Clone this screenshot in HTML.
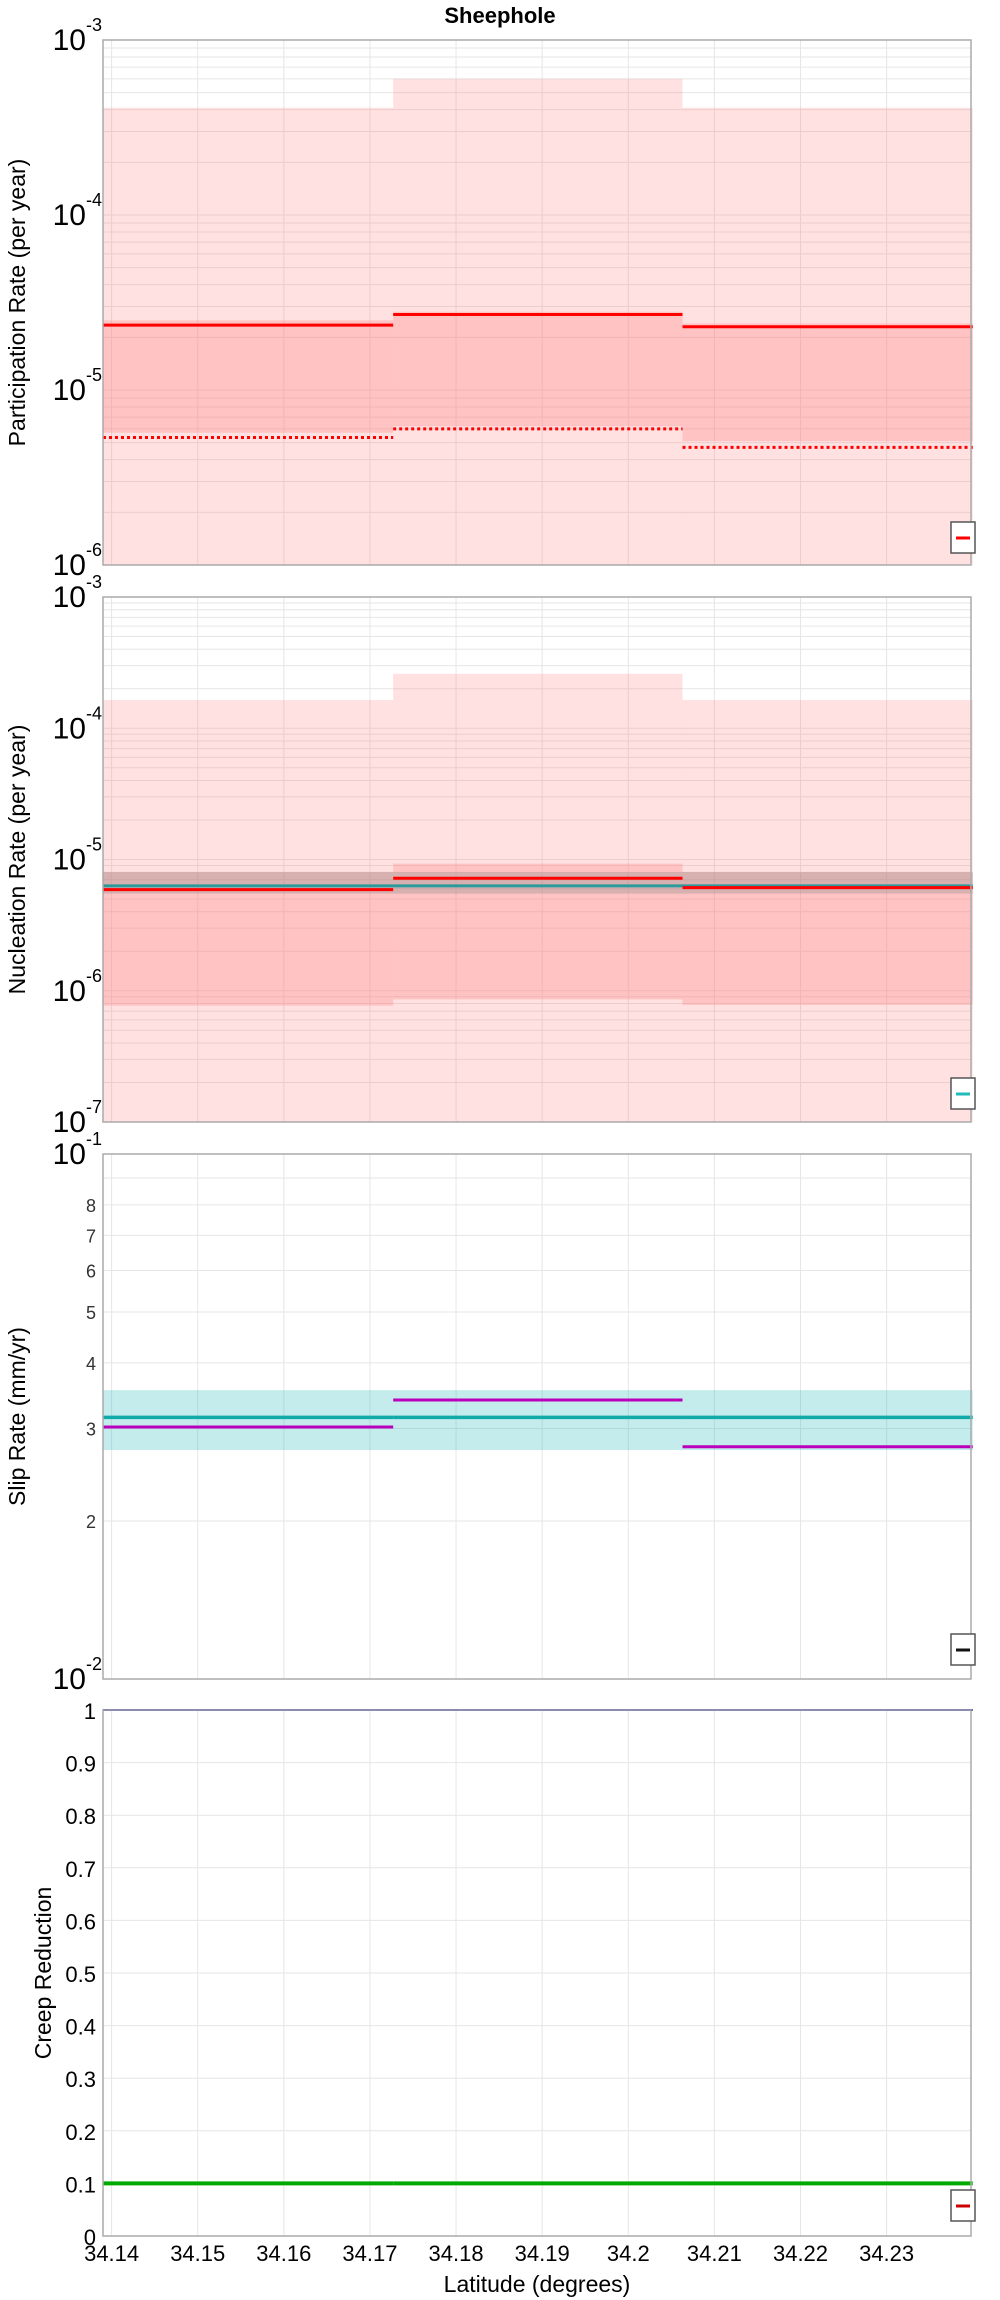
<!DOCTYPE html>
<html><head><meta charset="utf-8"><style>
body{margin:0;background:#fff;}
svg{display:block;font-family:"Liberation Sans","DejaVu Sans",sans-serif;}
</style></head><body>
<svg id="chart" width="1000" height="2300" viewBox="0 0 1000 2300" xmlns="http://www.w3.org/2000/svg">
<text x="500" y="23" text-anchor="middle" font-size="22" font-weight="bold">Sheephole</text>
</svg>
<script>
// ---- data ----
const xTicks = [34.14,34.15,34.16,34.17,34.18,34.19,34.2,34.21,34.22,34.23];
const xTickLabels = ["34.14","34.15","34.16","34.17","34.18","34.19","34.2","34.21","34.22","34.23"];
const segStarts = [34.139, 34.1727, 34.2063];
const segEnds   = [34.1727, 34.2063, 34.24];
// participation
const partOuterHi = [4.1e-4, 6.0e-4, 4.1e-4];
const partOuterLo = [1e-6, 1e-6, 1e-6];
const partInnerHi = [2.5e-5, 2.8e-5, 2.4e-5];
const partInnerLo = [5.7e-6, 6.2e-6, 5.1e-6];
const partMean = [2.35e-5, 2.7e-5, 2.3e-5];
const partDotted = [5.35e-6, 6.0e-6, 4.7e-6];
// nucleation
const nuclOuterHi = [1.64e-4, 2.6e-4, 1.64e-4];
const nuclOuterLo = [1e-7, 1e-7, 1e-7];
const nuclInnerHi = [8.0e-6, 9.3e-6, 8.0e-6];
const nuclInnerLo = [7.7e-7, 8.6e-7, 7.8e-7];
const nuclMean = [5.9e-6, 7.2e-6, 6.1e-6];
const nuclTarget = [6.3e-6, 6.3e-6, 6.3e-6];
const nuclTargetHi = [8.0e-6, 8.0e-6, 8.0e-6];
const nuclTargetLo = [5.5e-6, 5.5e-6, 5.5e-6];
// slip
const slipTarget = [3.15, 3.15, 3.15];
const slipTargetHi = [3.55, 3.55, 3.55];
const slipTargetLo = [2.73, 2.73, 2.73];
const slipModel = [3.02, 3.40, 2.77];
const slipMinorLabels = ["2","3","4","5","6","7","8"];
// creep
const creepUpper = [1, 1, 1];
const creepLower = [0.1, 0.1, 0.1];
const creepTicks = [0,0.1,0.2,0.3,0.4,0.5,0.6,0.7,0.8,0.9,1];
const creepTickLabels = ["0","0.1","0.2","0.3","0.4","0.5","0.6","0.7","0.8","0.9","1"];

const NS="http://www.w3.org/2000/svg";
const svg=document.getElementById('chart');
const L=103,R=971;
const X0=34.139,X1=34.2398;
function xs(v){return L+(v-X0)/(X1-X0)*(R-L);}
function mk(tag,attrs,parent){const e=document.createElementNS(NS,tag);for(const k in attrs)e.setAttribute(k,attrs[k]);(parent||svg).appendChild(e);return e;}

function logScale(top,bot,lmin,lmax){return v=>bot-(Math.log10(v)-lmin)/(lmax-lmin)*(bot-top);}
function linScale(top,bot,a,b){return v=>bot-(v-a)/(b-a)*(bot-top);}

function panel(name,top,bot){
  const g=mk('g',{});
  
  
  return g;
}
function vgrid(g,top,bot){
  xTicks.forEach(t=>{const l=mk('line',{x1:xs(t),x2:xs(t),y1:top,y2:bot,stroke:'#e6e6e6','stroke-width':1},g);
  });
}
function frame(g,top,bot){
  const r=mk('rect',{x:L,y:top,width:R-L,height:bot-top,fill:'none',stroke:'#aaa','stroke-width':1.5},g);
  
}
function bands(g,y,hi,lo,fill,name){
  for(let i=0;i<hi.length;i++){
    const y1=y(hi[i]),y2=y(lo[i]);
    const r=mk('rect',{x:xs(segStarts[i]),y:y1,width:xs(segEnds[i])-xs(segStarts[i]),height:y2-y1,fill:fill},g);
    
  }
}
function lines(g,y,vals,color,w,name,dash){
  for(let i=0;i<vals.length;i++){
    const a={x1:xs(segStarts[i]),x2:xs(segEnds[i]),y1:y(vals[i]),y2:y(vals[i]),stroke:color,'stroke-width':w};
    if(dash)a['stroke-dasharray']=dash;
    const l=mk('line',a,g);
    
  }
}
function logGrid(g,y,lmin,lmax,minorOnly){
  for(let d=lmin;d<lmax;d++){
    for(let m=1;m<10;m++){
      const v=Math.pow(10,d)*m;
      const l=mk('line',{x1:L,x2:R,y1:y(v),y2:y(v),stroke:'#e6e6e6','stroke-width':1},g);
      
    }
  }
}
function decadeLabels(g,y,lmin,lmax){
  for(let d=lmin;d<=lmax;d++){
    const t=mk('text',{x:86,y:y(Math.pow(10,d))+10,'text-anchor':'end','font-size':30},g);
    t.textContent='10';
    
    const s=mk('text',{x:86,y:y(Math.pow(10,d))-9,'font-size':18},g);
    s.textContent=String(d);
    
  }
}
function ytitle(g,text,x,cy){
  const t=mk('text',{x:x,y:cy,'text-anchor':'middle','font-size':23,transform:`rotate(-90 ${x} ${cy})`},g);
  t.textContent=text;
}
function legend(g,y0,color){
  const r=mk('rect',{x:951,y:y0,width:24,height:31,fill:'#fff',stroke:'#555','stroke-width':1.5},g);
  
  const l=mk('line',{x1:956,x2:970,y1:y0+16,y2:y0+16,stroke:color,'stroke-width':3},g);
  
}

// Panel 1 participation
{const top=40,bot=565;const y=logScale(top,bot,-6,-3);const g=panel('participation-rate-panel');
 logGrid(g,y,-6,-3);vgrid(g,top,bot);
 bands(g,y,partOuterHi,partOuterLo,'rgba(255,120,120,0.22)','participation-outer-band');
 bands(g,y,partInnerHi,partInnerLo,'rgba(255,120,120,0.28)','participation-inner-band');
 lines(g,y,partMean,'#ff0000',3,'participation-mean-line');
 lines(g,y,partDotted,'#ff0000',3,'participation-dotted-line','3,3');
 frame(g,top,bot);decadeLabels(g,y,-6,-3);ytitle(g,'Participation Rate (per year)',25,(top+bot)/2);
 legend(g,522,'#ff0000');}
// Panel 2 nucleation
{const top=597,bot=1122;const y=logScale(top,bot,-7,-3);const g=panel('nucleation-rate-panel');
 logGrid(g,y,-7,-3);vgrid(g,top,bot);
 bands(g,y,nuclOuterHi,nuclOuterLo,'rgba(255,120,120,0.22)','nucleation-outer-band');
 bands(g,y,nuclInnerHi,nuclInnerLo,'rgba(255,120,120,0.28)','nucleation-inner-band');
 bands(g,y,nuclTargetHi,nuclTargetLo,'rgba(140,140,140,0.35)','nucleation-target-band');
 lines(g,y,nuclTarget,'#2a9a9a',3,'nucleation-target-line');
 lines(g,y,nuclMean,'#ff0000',3,'nucleation-mean-line');
 frame(g,top,bot);decadeLabels(g,y,-7,-3);ytitle(g,'Nucleation Rate (per year)',25,(top+bot)/2);
 legend(g,1078,'#22bbbb');}
// Panel 3 slip
{const top=1154,bot=1679;const y=logScale(top,bot,0,1);const g=panel('slip-rate-panel');
 for(let m=2;m<10;m++){const l=mk('line',{x1:L,x2:R,y1:y(m),y2:y(m),stroke:'#e6e6e6'},g);}
 vgrid(g,top,bot);
 bands(g,y,slipTargetHi,slipTargetLo,'rgba(20,180,180,0.25)','slip-target-band');
 lines(g,y,slipTarget,'#10aaaa',3.5,'slip-target-line');
 lines(g,y,slipModel,'#bb00bb',3,'slip-model-line');
 frame(g,top,bot);
 slipMinorLabels.forEach(s=>{const t=mk('text',{x:96,y:y(+s)+7,'text-anchor':'end','font-size':18,fill:'#333'},g);t.textContent=s;});
 [[1,'-2'],[10,'-1']].forEach(p=>{const t=mk('text',{x:86,y:y(p[0])+10,'text-anchor':'end','font-size':30},g);t.textContent='10';
  const s=mk('text',{x:86,y:y(p[0])-9,'font-size':18},g);s.textContent=p[1];});
 ytitle(g,'Slip Rate (mm/yr)',25,(top+bot)/2);
 legend(g,1634,'#111');}
// Panel 4 creep
{const top=1710,bot=2236;const y=linScale(top,bot,0,1);const g=panel('creep-reduction-panel');
 creepTicks.forEach(v=>{const l=mk('line',{x1:L,x2:R,y1:y(v),y2:y(v),stroke:'#e6e6e6'},g);});
 vgrid(g,top,bot);
 lines(g,y,creepUpper,'#3333bb',2,'creep-upper-line');
 lines(g,y,creepLower,'#00aa00',4,'creep-lower-line');
 frame(g,top,bot);
 creepTicks.forEach((v,i)=>{const t=mk('text',{x:96,y:y(v)+9,'text-anchor':'end','font-size':22},g);t.textContent=creepTickLabels[i];});
 xTicks.forEach((v,i)=>{const t=mk('text',{x:xs(v),y:2261,'text-anchor':'middle','font-size':22},g);t.textContent=xTickLabels[i];});
 const xt=mk('text',{x:537,y:2292,'text-anchor':'middle','font-size':23},g);xt.textContent='Latitude (degrees)';
 ytitle(g,'Creep Reduction',51,(top+bot)/2);
 legend(g,2190,'#cc0000');}
</script>
</body></html>
